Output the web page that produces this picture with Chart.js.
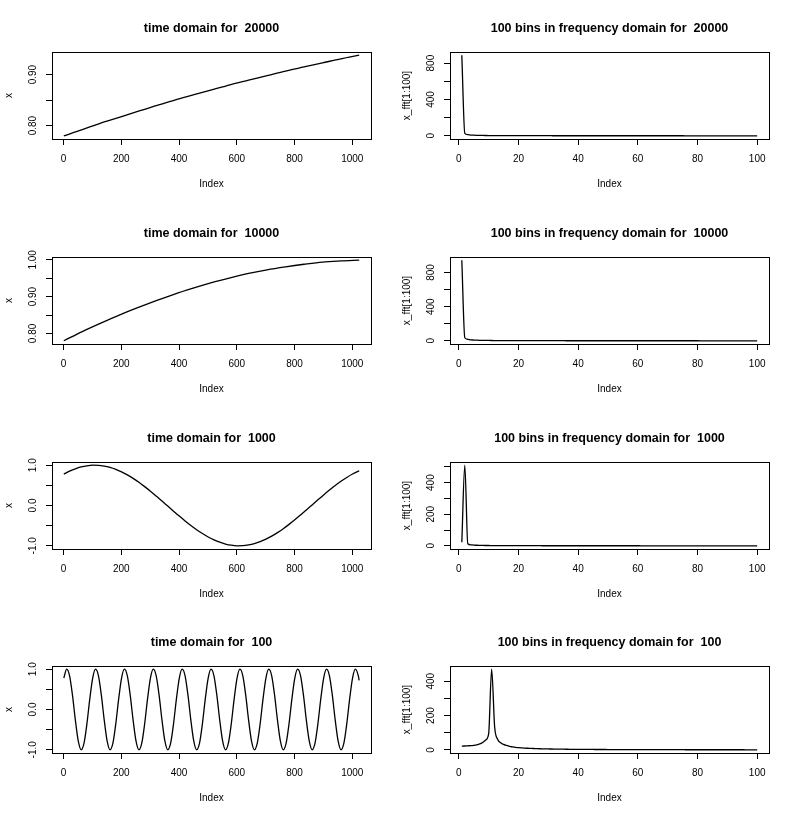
<!DOCTYPE html>
<html>
<head>
<meta charset="utf-8">
<title>time and frequency domain</title>
<script src="https://cdn.jsdelivr.net/npm/chart.js@4.4.1/dist/chart.umd.min.js"></script>
<style>
  html, body { margin: 0; padding: 0; background: #fff; }
  #wrap { position: relative; width: 796px; height: 819px; overflow: hidden; }
  #wrap canvas { position: absolute; }
</style>
</head>
<body>
<div id="wrap"></div>
<script>
/* 4 x 2 grid: time domain (left) and first 100 fft bins (right) per period */

/* ── Data ───────────────────────────────────────────────────────────────── */

// sample positions along the 1024-point signal
var timeIdxSlow = [1, 65, 129, 193, 257, 321, 385, 449, 513, 577, 641, 705, 769, 833, 897, 961, 1024];

var timeIdxMid = [1, 21, 41, 61, 81, 101, 121, 141, 161, 181, 201, 221, 241, 261, 281, 301, 321,
  341, 361, 381, 401, 421, 441, 461, 481, 501, 521, 541, 561, 581, 601, 621, 641, 661, 681, 701,
  721, 741, 761, 781, 801, 821, 841, 861, 881, 901, 921, 941, 961, 981, 1001, 1021, 1024];

var timeIdxFast = [1, 11, 21, 31, 41, 51, 61, 71, 81, 91,
  101, 111, 121, 131, 141, 151, 161, 171, 181, 191,
  201, 211, 221, 231, 241, 251, 261, 271, 281, 291,
  301, 311, 321, 331, 341, 351, 361, 371, 381, 391,
  401, 411, 421, 431, 441, 451, 461, 471, 481, 491,
  501, 511, 521, 531, 541, 551, 561, 571, 581, 591,
  601, 611, 621, 631, 641, 651, 661, 671, 681, 691,
  701, 711, 721, 731, 741, 751, 761, 771, 781, 791,
  801, 811, 821, 831, 841, 851, 861, 871, 881, 891,
  901, 911, 921, 931, 941, 951, 961, 971, 981, 991,
  1001, 1011, 1021, 1024];

var time20000 = [0.780, 0.792, 0.805, 0.816, 0.828, 0.839, 0.850, 0.860, 0.870, 0.880, 0.889,
  0.898, 0.907, 0.915, 0.923, 0.931, 0.938];

var time10000 = [0.780, 0.805, 0.828, 0.850, 0.870, 0.889, 0.907, 0.923, 0.938, 0.951, 0.963,
  0.973, 0.981, 0.988, 0.994, 0.997, 0.999];

var time1000 = [0.780, 0.852, 0.911, 0.956, 0.985, 0.999, 0.997, 0.979, 0.946, 0.898,
  0.836, 0.761, 0.673, 0.576, 0.468, 0.355, 0.234, 0.110, -0.015, -0.140,
  -0.263, -0.382, -0.494, -0.600, -0.696, -0.780, -0.852, -0.911, -0.956, -0.985,
  -0.999, -0.997, -0.979, -0.946, -0.898, -0.836, -0.761, -0.673, -0.576, -0.468,
  -0.355, -0.234, -0.110, 0.015, 0.140, 0.263, 0.382, 0.494, 0.600, 0.696,
  0.780, 0.852, 0.862];

var time100 = [
  0.780, 0.999, 0.836, 0.355, -0.263, -0.780, -0.999, -0.836, -0.355, 0.263,
  0.780, 0.999, 0.836, 0.355, -0.263, -0.780, -0.999, -0.836, -0.355, 0.263,
  0.780, 0.999, 0.836, 0.355, -0.263, -0.780, -0.999, -0.836, -0.355, 0.263,
  0.780, 0.999, 0.836, 0.355, -0.263, -0.780, -0.999, -0.836, -0.355, 0.263,
  0.780, 0.999, 0.836, 0.355, -0.263, -0.780, -0.999, -0.836, -0.355, 0.263,
  0.780, 0.999, 0.836, 0.355, -0.263, -0.780, -0.999, -0.836, -0.355, 0.263,
  0.780, 0.999, 0.836, 0.355, -0.263, -0.780, -0.999, -0.836, -0.355, 0.263,
  0.780, 0.999, 0.836, 0.355, -0.263, -0.780, -0.999, -0.836, -0.355, 0.263,
  0.780, 0.999, 0.836, 0.355, -0.263, -0.780, -0.999, -0.836, -0.355, 0.263,
  0.780, 0.999, 0.836, 0.355, -0.263, -0.780, -0.999, -0.836, -0.355, 0.263,
  0.780, 0.999, 0.836, 0.720];

// fft bins 1..100
var bins = [1, 2, 3, 4, 5, 6, 7, 8, 9, 10, 11, 12, 13, 14, 15, 16, 17, 18, 19, 20,
  21, 22, 23, 24, 25, 26, 27, 28, 29, 30, 31, 32, 33, 34, 35, 36, 37, 38, 39, 40,
  41, 42, 43, 44, 45, 46, 47, 48, 49, 50, 51, 52, 53, 54, 55, 56, 57, 58, 59, 60,
  61, 62, 63, 64, 65, 66, 67, 68, 69, 70, 71, 72, 73, 74, 75, 76, 77, 78, 79, 80,
  81, 82, 83, 84, 85, 86, 87, 88, 89, 90, 91, 92, 93, 94, 95, 96, 97, 98, 99, 100];

var fft20000 = [887, 26, 13, 8.6, 6.4, 5.1, 4.3, 3.7, 3.2, 2.9,
  2.6, 2.3, 2.1, 2.0, 1.8, 1.7, 1.6, 1.5, 1.4, 1.4,
  1.3, 1.2, 1.2, 1.1, 1.1, 1.0, 1.0, 1.0, 0.9, 0.9,
  0.9, 0.8, 0.8, 0.8, 0.8, 0.7, 0.7, 0.7, 0.7, 0.7,
  0.6, 0.6, 0.6, 0.6, 0.6, 0.6, 0.6, 0.6, 0.6, 0.6,
  0.5, 0.5, 0.5, 0.5, 0.5, 0.5, 0.5, 0.5, 0.5, 0.5,
  0.4, 0.4, 0.4, 0.4, 0.4, 0.4, 0.4, 0.4, 0.4, 0.4,
  0.4, 0.4, 0.4, 0.4, 0.4, 0.3, 0.3, 0.3, 0.3, 0.3,
  0.3, 0.3, 0.3, 0.3, 0.3, 0.3, 0.3, 0.3, 0.3, 0.3,
  0.3, 0.3, 0.3, 0.3, 0.3, 0.3, 0.3, 0.3, 0.3, 0.3];

var fft10000 = [944, 36, 18, 12, 9.0, 7.2, 6.0, 5.1, 4.5, 4.0,
  3.6, 3.3, 3.0, 2.8, 2.6, 2.4, 2.2, 2.1, 2.0, 1.9,
  1.8, 1.7, 1.6, 1.6, 1.5, 1.4, 1.4, 1.3, 1.3, 1.2,
  1.2, 1.2, 1.1, 1.1, 1.1, 1.0, 1.0, 1.0, 0.9, 0.9,
  0.9, 0.9, 0.9, 0.8, 0.8, 0.8, 0.8, 0.8, 0.7, 0.7,
  0.7, 0.7, 0.7, 0.7, 0.7, 0.7, 0.7, 0.7, 0.7, 0.7,
  0.6, 0.6, 0.6, 0.6, 0.6, 0.6, 0.6, 0.6, 0.6, 0.6,
  0.5, 0.5, 0.5, 0.5, 0.5, 0.5, 0.5, 0.5, 0.5, 0.5,
  0.4, 0.4, 0.4, 0.4, 0.4, 0.4, 0.4, 0.4, 0.4, 0.4,
  0.4, 0.4, 0.4, 0.4, 0.4, 0.4, 0.4, 0.4, 0.4, 0.4];

var fft1000 = [22, 510, 13, 6.5, 4.5, 3.4, 2.8, 2.3, 2.0, 1.8,
  1.6, 1.4, 1.3, 1.2, 1.1, 1.0, 0.9, 0.9, 0.8, 0.8,
  0.7, 0.7, 0.7, 0.6, 0.6, 0.6, 0.6, 0.5, 0.5, 0.5,
  0.5, 0.5, 0.5, 0.5, 0.5, 0.4, 0.4, 0.4, 0.4, 0.4,
  0.4, 0.4, 0.4, 0.4, 0.4, 0.3, 0.3, 0.3, 0.3, 0.3,
  0.3, 0.3, 0.3, 0.3, 0.3, 0.3, 0.3, 0.3, 0.3, 0.3,
  0.2, 0.2, 0.2, 0.2, 0.2, 0.2, 0.2, 0.2, 0.2, 0.2,
  0.2, 0.2, 0.2, 0.2, 0.2, 0.2, 0.2, 0.2, 0.2, 0.2,
  0.2, 0.2, 0.2, 0.2, 0.2, 0.2, 0.2, 0.2, 0.2, 0.2,
  0.2, 0.2, 0.2, 0.2, 0.2, 0.2, 0.2, 0.2, 0.2, 0.2];

var fft100 = [22, 23, 24, 25, 27, 30, 35, 43, 58, 95,
  470, 135, 62, 42, 32, 26, 21, 18, 15.5, 13.5,
  12, 10.8, 9.8, 9.0, 8.2, 7.6, 7.0, 6.5, 6.1, 5.7,
  5.3, 5.0, 4.7, 4.5, 4.2, 4.0, 3.8, 3.6, 3.5, 3.3,
  3.2, 3.1, 2.9, 2.8, 2.7, 2.6, 2.5, 2.5, 2.4, 2.3,
  2.2, 2.2, 2.1, 2.0, 2.0, 1.9, 1.9, 1.8, 1.8, 1.7,
  1.7, 1.7, 1.6, 1.6, 1.5, 1.5, 1.5, 1.4, 1.4, 1.4,
  1.4, 1.3, 1.3, 1.3, 1.3, 1.2, 1.2, 1.2, 1.2, 1.1,
  1.1, 1.1, 1.1, 1.1, 1.1, 1.0, 1.0, 1.0, 1.0, 1.0,
  1.0, 1.0, 1.0, 1.0, 1.0, 0.9, 0.9, 0.9, 0.9, 0.9];

// axis ticks; empty label = tick mark only (R drops overlapping labels)
var timeXTicks = [0, 200, 400, 600, 800, 1000];
var binXTicks  = [0, 20, 40, 60, 80, 100];

var yTicksNear1   = [0.80, 0.85, 0.90];
var yLabelsNear1  = ['0.80', '', '0.90'];
var yTicksUpTo1   = [0.80, 0.85, 0.90, 0.95, 1.00];
var yLabelsUpTo1  = ['0.80', '', '0.90', '', '1.00'];
var yTicksUnit    = [-1.0, -0.5, 0.0, 0.5, 1.0];
var yLabelsUnit   = ['-1.0', '', '0.0', '', '1.0'];
var yTicksFft800  = [0, 200, 400, 600, 800];
var yLabelsFft800 = ['0', '', '400', '', '800'];
var yTicksFft500  = [0, 100, 200, 300, 400, 500];
var yLabelsFft500 = ['0', '', '200', '', '400', ''];
var yTicksFft400  = [0, 100, 200, 300, 400];
var yLabelsFft400 = ['0', '', '200', '', '400'];

/* ── Layout constants ───────────────────────────────────────────────────── */

var FONT     = '"Liberation Sans", Arial, Helvetica, sans-serif';
var PANEL_W  = 398;
var PANEL_H  = 205;
var BOX      = { left: 52, right: 371, top: 52, bottom: 139 };
var TICK_LEN = 6;
var YLAB_CX  = 33;     // centre of rotated y tick labels

var panels = [
  { title: 'time domain for  20000', ylab: 'x', xs: timeIdxSlow, ys: time20000,
    xTicks: timeXTicks, yTicks: yTicksNear1, yLabels: yLabelsNear1 },
  { title: '100 bins in frequency domain for  20000', ylab: 'x_fft[1:100]', xs: bins, ys: fft20000,
    xTicks: binXTicks, yTicks: yTicksFft800, yLabels: yLabelsFft800 },
  { title: 'time domain for  10000', ylab: 'x', xs: timeIdxSlow, ys: time10000,
    xTicks: timeXTicks, yTicks: yTicksUpTo1, yLabels: yLabelsUpTo1 },
  { title: '100 bins in frequency domain for  10000', ylab: 'x_fft[1:100]', xs: bins, ys: fft10000,
    xTicks: binXTicks, yTicks: yTicksFft800, yLabels: yLabelsFft800 },
  { title: 'time domain for  1000', ylab: 'x', xs: timeIdxMid, ys: time1000,
    xTicks: timeXTicks, yTicks: yTicksUnit, yLabels: yLabelsUnit },
  { title: '100 bins in frequency domain for  1000', ylab: 'x_fft[1:100]', xs: bins, ys: fft1000,
    xTicks: binXTicks, yTicks: yTicksFft500, yLabels: yLabelsFft500 },
  { title: 'time domain for  100', ylab: 'x', xs: timeIdxFast, ys: time100,
    xTicks: timeXTicks, yTicks: yTicksUnit, yLabels: yLabelsUnit },
  { title: '100 bins in frequency domain for  100', ylab: 'x_fft[1:100]', xs: bins, ys: fft100,
    xTicks: binXTicks, yTicks: yTicksFft400, yLabels: yLabelsFft400 }
];

/* ── Helpers ────────────────────────────────────────────────────────────── */

var _mctx = document.createElement('canvas').getContext('2d');

function _textW(s, size) {
  _mctx.font = size + 'px ' + FONT;
  return _mctx.measureText(s).width;
}

// R default axis range: data range stretched 4% each side
function _rRange(arr) {
  var lo = Math.min.apply(null, arr), hi = Math.max.apply(null, arr);
  var d = (hi - lo) * 0.04;
  return [lo - d, hi + d];
}

var boxPlugin = {
  id: 'rbox',
  afterDraw: function (chart) {
    var a = chart.chartArea, ctx = chart.ctx;
    ctx.save();
    ctx.strokeStyle = '#000';
    ctx.lineWidth = 1;
    ctx.strokeRect(a.left + 0.5, a.top + 0.5, a.right - a.left, a.bottom - a.top);
    ctx.restore();
  }
};

/* ── One panel ──────────────────────────────────────────────────────────── */

function _makePanel(p, row, col) {
  var canvas = document.createElement('canvas');
  canvas.width  = PANEL_W;
  canvas.height = PANEL_H;
  canvas.style.left = (col * PANEL_W) + 'px';
  canvas.style.top  = Math.round(row * 204.75) + 'px';
  document.getElementById('wrap').appendChild(canvas);

  var xr = _rRange(p.xs);
  var yr = _rRange(p.ys);
  var widest = Math.max.apply(null, p.yLabels.map(function (s) { return _textW(s, 10); }));
  var yPad = BOX.left - TICK_LEN - YLAB_CX - widest / 2;

  var tickFont = { family: FONT, size: 10 };

  return new Chart(canvas, {
    type: 'line',
    data: {
      datasets: [{
        data: p.xs.map(function (x, i) { return { x: x, y: p.ys[i] }; }),
        borderColor: '#000',
        borderWidth: 1.3,
        pointRadius: 0,
        cubicInterpolationMode: 'monotone',
        fill: false
      }]
    },
    plugins: [boxPlugin],
    options: {
      responsive: false,
      animation: false,
      devicePixelRatio: 1,
      events: [],
      layout: { padding: { left: 0, right: PANEL_W - BOX.right, top: 0, bottom: 0 } },
      plugins: {
        legend:  { display: false },
        tooltip: { enabled: false },
        title: {
          display: true,
          fullSize: false,
          text: p.title,
          color: '#000',
          font: { family: FONT, size: 12.5, weight: 'bold' },
          padding: { top: 21, bottom: 16 }
        }
      },
      scales: {
        x: {
          type: 'linear',
          min: xr[0], max: xr[1],
          bounds: 'data',
          afterFit: function (s) { s.height = PANEL_H - BOX.bottom; },
          afterBuildTicks: function (s) {
            s.ticks = p.xTicks.map(function (v) { return { value: v }; });
          },
          ticks: {
            autoSkip: false, maxRotation: 0, color: '#000', font: tickFont, padding: 8,
            callback: function (v) { return String(v); }
          },
          grid: { drawOnChartArea: false, drawTicks: true, tickLength: TICK_LEN, color: '#000', lineWidth: 1 },
          border: { display: false },
          title: { display: true, text: 'Index', color: '#000', font: tickFont, padding: { top: 0, bottom: 15 } }
        },
        y: {
          type: 'linear',
          min: yr[0], max: yr[1],
          bounds: 'data',
          afterFit: function (s) { s.width = BOX.left; },
          afterBuildTicks: function (s) {
            s.ticks = p.yTicks.map(function (v) { return { value: v }; });
          },
          ticks: {
            autoSkip: false, minRotation: 90, maxRotation: 90, crossAlign: 'center',
            color: '#000', font: tickFont, padding: yPad,
            callback: function (v, i) { return p.yLabels[i]; }
          },
          grid: { drawOnChartArea: false, drawTicks: true, tickLength: TICK_LEN, color: '#000', lineWidth: 1 },
          border: { display: false },
          title: { display: true, text: p.ylab, color: '#000', font: tickFont, padding: { top: 3, bottom: 0 } }
        }
      }
    }
  });
}

panels.forEach(function (p, i) {
  _makePanel(p, Math.floor(i / 2), i % 2);
});
</script>
</body>
</html>
